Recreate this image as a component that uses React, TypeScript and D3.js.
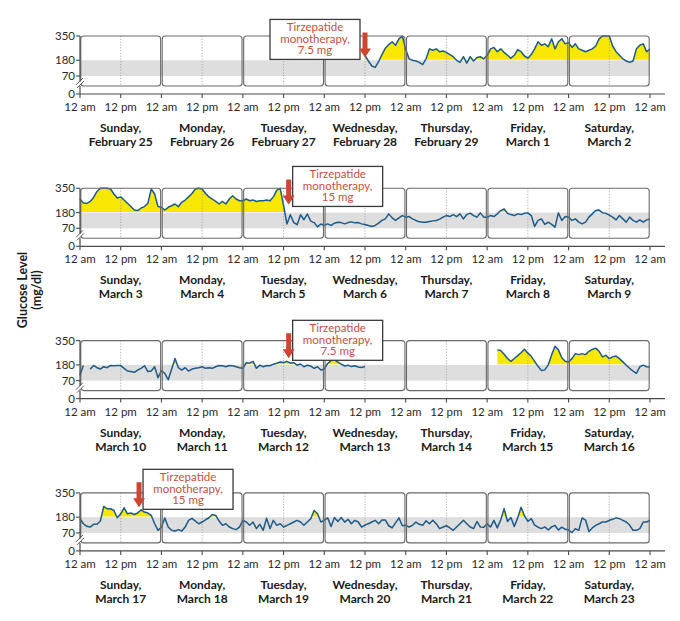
import * as d3 from 'd3';

// ---- data ----------------------------------------------------------------
const dayNames = ['Sunday,', 'Monday,', 'Tuesday,', 'Wednesday,', 'Thursday,', 'Friday,', 'Saturday,'];

const weekDates = [
  ['February 25', 'February 26', 'February 27', 'February 28', 'February 29', 'March 1', 'March 2'],
  ['March 3', 'March 4', 'March 5', 'March 6', 'March 7', 'March 8', 'March 9'],
  ['March 10', 'March 11', 'March 12', 'March 13', 'March 14', 'March 15', 'March 16'],
  ['March 17', 'March 18', 'March 19', 'March 20', 'March 21', 'March 22', 'March 23'],
];

const glucoseTicks = [0, 70, 180, 350];
const targetLow = 70;
const targetHigh = 180;
const hourTickLabels = ['12 am', '12 pm'];

// hourly CGM readings (mg/dl), one row of 24 per day; null = no sensor data
const week1 = [
  null,
  null,
  null,
  [null, null, null, null, null, null, null, null, null, null, null, null, 215, 175, 140, 130, 170, 220, 265, 290, 310, 285, 330, 350],
  [255, 190, 180, 175, 165, 150, 190, 260, 250, 260, 240, 245, 235, 220, 205, 180, 165, 205, 160, 205, 175, 200, 205, 190],
  [215, 260, 270, 240, 260, 235, 215, 195, 215, 255, 240, 210, 195, 220, 260, 310, 285, 295, 275, 330, 260, 310, 330, 295],
  [305, 270, 295, 260, 250, 240, 250, 260, 280, 330, 360, 360, 350, 280, 240, 215, 190, 175, 165, 175, 260, 285, 295, 240],
];

const week2 = [
  [275, 247, 245, 258, 286, 328, 355, 355, 355, 345, 310, 282, 290, 268, 245, 222, 198, 194, 212, 222, 245, 345, 310, 222],
  [217, 198, 217, 228, 240, 222, 252, 268, 290, 314, 345, 355, 345, 314, 290, 275, 258, 240, 258, 240, 275, 298, 275, 263],
  [263, 275, 263, 268, 258, 263, 263, 268, 263, 290, 337, 350, 230, 100, 165, 110, 95, 165, 130, 170, 120, 110, 80, 100],
  [90, 101, 90, 106, 113, 110, 101, 110, 115, 108, 110, 101, 97, 90, 83, 90, 106, 125, 136, 171, 143, 125, 143, 159],
  [148, 152, 136, 125, 115, 113, 113, 118, 122, 125, 134, 148, 159, 152, 166, 152, 171, 136, 166, 176, 159, 148, 178, 148],
  [148, 159, 152, 171, 194, 205, 175, 166, 159, 171, 166, 175, 178, 159, 83, 125, 136, 97, 113, 97, 78, 178, 125, 152],
  [148, 125, 136, 113, 101, 113, 148, 171, 194, 198, 178, 175, 162, 148, 129, 159, 136, 113, 148, 125, 113, 129, 113, 129],
];

const week3 = [
  [110, 175, null, 150, 176, 160, 151, 167, 160, 176, 174, 176, 175, 156, 137, 133, 128, 144, 156, 174, 133, 137, 167, 90],
  [140, 120, 76, 150, 225, 160, 144, 160, 137, 151, 156, 160, 167, 156, 160, 156, 167, 176, 174, 167, 176, 174, 167, 160],
  [156, 195, 192, 205, 156, 178, 167, 176, 174, 185, 192, 200, 196, 205, 192, 196, 178, 186, 167, 178, 172, 156, 167, 144],
  [150, 190, 210, 215, 200, 185, 172, 178, 168, 174, 165, 162, 168, null, null, null, null, null, null, null, null, null, null, null],
  null,
  [null, null, null, 285, 280, 255, 225, 205, 225, 245, 265, 290, 262, 240, 205, 170, 140, 145, 180, 250, 310, 285, 230, 205],
  [201, 224, 259, 252, 259, 252, 275, 288, 297, 275, 236, 247, 224, 236, 242, 224, 201, 178, 156, 137, 121, 167, 178, 167],
];

const week4 = [
  [169, 134, 116, 111, 130, 130, 153, 255, 239, 239, 227, 176, 204, 246, 204, 209, 199, 209, 232, 216, 209, 192, 134, 88],
  [110, 175, 111, 88, 83, 93, 83, 111, 158, 172, 153, 134, 146, 162, 176, 199, 192, 153, 123, 134, 111, 100, 93, 111],
  [158, 146, 123, 146, 100, 130, 88, 172, 100, 158, 123, 134, 111, 123, 134, 146, 158, 146, 123, 146, 169, 227, 204, 146],
  [160, 175, 115, 178, 150, 178, 146, 165, 134, 158, 146, 111, 125, 134, 146, 158, 134, 160, 160, 120, 105, 140, 175, 120],
  [123, 111, 123, 146, 130, 123, 155, 134, 158, 134, 100, 111, 120, 105, 88, 111, 134, 158, 134, 111, 100, 150, 111, 110],
  [134, 111, 158, 105, 160, 240, 150, 178, 115, 175, 250, 190, 150, 170, 125, 110, 100, 112, 90, 112, 122, 90, 110, 95],
  [90, 72, 100, 88, 175, 160, 80, 105, 123, 134, 146, 146, 158, 165, 175, 170, 158, 146, 125, 88, 88, 100, 146, 146],
];

// reading at the closing 12 am of each week
const weekEndValues = [260, 135, 165, 158];

const weeks = [week1, week2, week3, week4];

// dose changes: day of week, hour of day, dose label, glucose level the arrow points at
const doseEvents = [
  { week: 0, day: 3, hour: 12, dose: '7.5 mg', pointsAt: 200 },
  { week: 1, day: 2, hour: 13.5, dose: '15 mg', pointsAt: 237 },
  { week: 2, day: 2, hour: 13.5, dose: '7.5 mg', pointsAt: 226 },
  { week: 3, day: 0, hour: 17.4, dose: '15 mg', pointsAt: 249 },
];

// ---- layout ----------------------------------------------------------------
const WIDTH = 680;
const HEIGHT = 621;
const LEFT = 80;
const RIGHT = 650;
const PANEL_TOP = 36;
const PANEL_STEP = 152.3;
const PANEL_H = 50;
const FONT = "Lato, 'Open Sans', 'DejaVu Sans', sans-serif";

const LINE_COLOR = '#1c5b8a';
const HIGH_FILL = '#f8e700';
const RANGE_FILL = '#dedede';
const BOX_STROKE = '#6a6a6a';
const AXIS_COLOR = '#4a4a4a';
const NOTE_RED = '#c9503e';

type Point = { t: number; v: number | null };

const x = d3.scaleLinear().domain([0, 168]).range([LEFT, RIGHT]);

function WeekPanel({ index }: { index: number }) {
  const days = weeks[index];
  const top = PANEL_TOP + index * PANEL_STEP;
  const bottom = top + PANEL_H;
  const axisY = bottom + 8;

  const y = d3.scaleLinear().domain([0, 350]).range([bottom, top]).clamp(true);

  const points: Point[] = [];
  days.forEach((row, d) => {
    for (let h = 0; h < 24; h++) points.push({ t: d * 24 + h, v: row ? row[h] : null });
  });
  points.push({ t: 168, v: weekEndValues[index] });

  const line = d3
    .line<Point>()
    .defined((p) => p.v != null)
    .x((p) => x(p.t))
    .y((p) => y(p.v as number));

  const area = d3
    .area<Point>()
    .defined((p) => p.v != null)
    .x((p) => x(p.t))
    .y0(y(targetHigh))
    .y1((p) => y(p.v as number));

  const clipId = `above-range-${index}`;
  const dayIdx = d3.range(7);
  const tickIdx = d3.range(15);

  const events = doseEvents.filter((e) => e.week === index);

  return (
    <g>
      <defs>
        <clipPath id={clipId}>
          <rect x={LEFT} y={top - 2} width={RIGHT - LEFT} height={y(targetHigh) - top + 1.4} />
        </clipPath>
      </defs>

      {/* target range band */}
      <rect
        x={LEFT}
        y={y(targetHigh)}
        width={RIGHT - LEFT}
        height={y(targetLow) - y(targetHigh)}
        fill={RANGE_FILL}
      />

      {/* time above range */}
      <path d={area(points) ?? ''} fill={HIGH_FILL} clipPath={`url(#${clipId})`} />

      {/* noon gridlines */}
      {dayIdx.map((d) => (
        <line
          key={`n${d}`}
          x1={x(d * 24 + 12)}
          x2={x(d * 24 + 12)}
          y1={top}
          y2={bottom}
          stroke="#9a9a9a"
          strokeWidth={0.8}
          strokeDasharray="1.2,1.6"
        />
      ))}

      <path d={line(points) ?? ''} fill="none" stroke={LINE_COLOR} strokeWidth={1.5} strokeLinejoin="round" />

      {/* day boxes */}
      {dayIdx.map((d) => (
        <rect
          key={`b${d}`}
          x={x(d * 24) + 0.8}
          y={top}
          width={x((d + 1) * 24) - x(d * 24) - 1.6}
          height={PANEL_H}
          rx={3}
          fill="none"
          stroke={BOX_STROKE}
          strokeWidth={1.1}
        />
      ))}

      {/* y axis with break */}
      <line x1={LEFT} x2={LEFT} y1={top} y2={bottom - 4} stroke={AXIS_COLOR} strokeWidth={1.2} />
      <line x1={LEFT} x2={LEFT} y1={bottom} y2={axisY} stroke={AXIS_COLOR} strokeWidth={1.2} />
      <polygon
        points={`${LEFT - 4},${bottom} ${LEFT + 3},${bottom - 7} ${LEFT + 4},${bottom - 5} ${LEFT - 3},${bottom + 2}`}
        fill="#fff"
      />
      <line x1={LEFT - 4} y1={bottom - 1} x2={LEFT + 3} y2={bottom - 8} stroke={AXIS_COLOR} strokeWidth={0.9} />
      <line x1={LEFT - 3} y1={bottom + 2} x2={LEFT + 4} y2={bottom - 5} stroke={AXIS_COLOR} strokeWidth={0.9} />

      {glucoseTicks.map((v) => {
        const ty = v === 0 ? axisY : y(v);
        return (
          <g key={`y${v}`}>
            <line x1={LEFT - 4} x2={LEFT} y1={ty} y2={ty} stroke={AXIS_COLOR} strokeWidth={1.1} />
            <text x={LEFT - 5} y={ty} dy="0.35em" textAnchor="end" fontSize={11.5} fill="#2a2a2a">
              {v}
            </text>
          </g>
        );
      })}

      {/* x axis */}
      <line x1={LEFT} x2={RIGHT + 15} y1={axisY} y2={axisY} stroke={AXIS_COLOR} strokeWidth={1.2} />
      {tickIdx.map((k) => (
        <g key={`x${k}`}>
          <line x1={x(k * 12)} x2={x(k * 12)} y1={axisY} y2={axisY + 4} stroke={AXIS_COLOR} strokeWidth={1.1} />
          <text x={x(k * 12)} y={axisY + 17} textAnchor="middle" fontSize={11.5} fill="#2a2a2a">
            {hourTickLabels[k % 2]}
          </text>
        </g>
      ))}

      {/* day labels */}
      {dayIdx.map((d) => (
        <text key={`d${d}`} x={x(d * 24 + 12)} textAnchor="middle" fontSize={12} fontWeight={700} fill="#1a1a1a">
          <tspan x={x(d * 24 + 12)} y={axisY + 38}>
            {dayNames[d]}
          </tspan>
          <tspan x={x(d * 24 + 12)} y={axisY + 52}>
            {weekDates[index][d]}
          </tspan>
        </text>
      ))}

      {/* dose change call-outs */}
      {events.map((e, i) => {
        const ax = x(e.day * 24 + e.hour);
        const tip = y(e.pointsAt);
        const boxW = 90;
        const boxH = 40;
        const boxX = index === 0 ? ax - 5 - boxW : ax + 4;
        const boxY = tip + 2 - boxH;
        const cx = boxX + boxW / 2;
        return (
          <g key={`e${i}`}>
            <rect x={boxX} y={boxY} width={boxW} height={boxH} fill="#fff" stroke="#3a3a3a" strokeWidth={1.3} />
            <text textAnchor="middle" fontSize={11.5} fill={NOTE_RED}>
              <tspan x={cx} y={boxY + 12}>
                Tirzepatide
              </tspan>
              <tspan x={cx} y={boxY + 23.5}>
                monotherapy,
              </tspan>
              <tspan x={cx} y={boxY + 35}>
                {e.dose}
              </tspan>
            </text>
            <polygon
              points={`${ax - 2.5},${tip - 25} ${ax + 2.5},${tip - 25} ${ax + 2.5},${tip - 9} ${ax + 6},${tip - 9} ${ax},${tip} ${ax - 6},${tip - 9} ${ax - 2.5},${tip - 9}`}
              fill="#cc4631"
            />
          </g>
        );
      })}
    </g>
  );
}

export default function App() {
  return (
    <div style={{ position: 'absolute', left: 0, top: 0 }}>
      <svg width={WIDTH} height={HEIGHT} fontFamily={FONT} style={{ display: 'block', background: '#fff' }}>
        {weeks.map((_, i) => (
          <WeekPanel key={i} index={i} />
        ))}
        <text transform="translate(27,290) rotate(-90)" textAnchor="middle" fontSize={12.5} fontWeight={700} fill="#1a1a1a">
          Glucose Level
        </text>
        <text transform="translate(41,290) rotate(-90)" textAnchor="middle" fontSize={12.5} fontWeight={700} fill="#1a1a1a">
          (mg/dl)
        </text>
      </svg>
    </div>
  );
}
